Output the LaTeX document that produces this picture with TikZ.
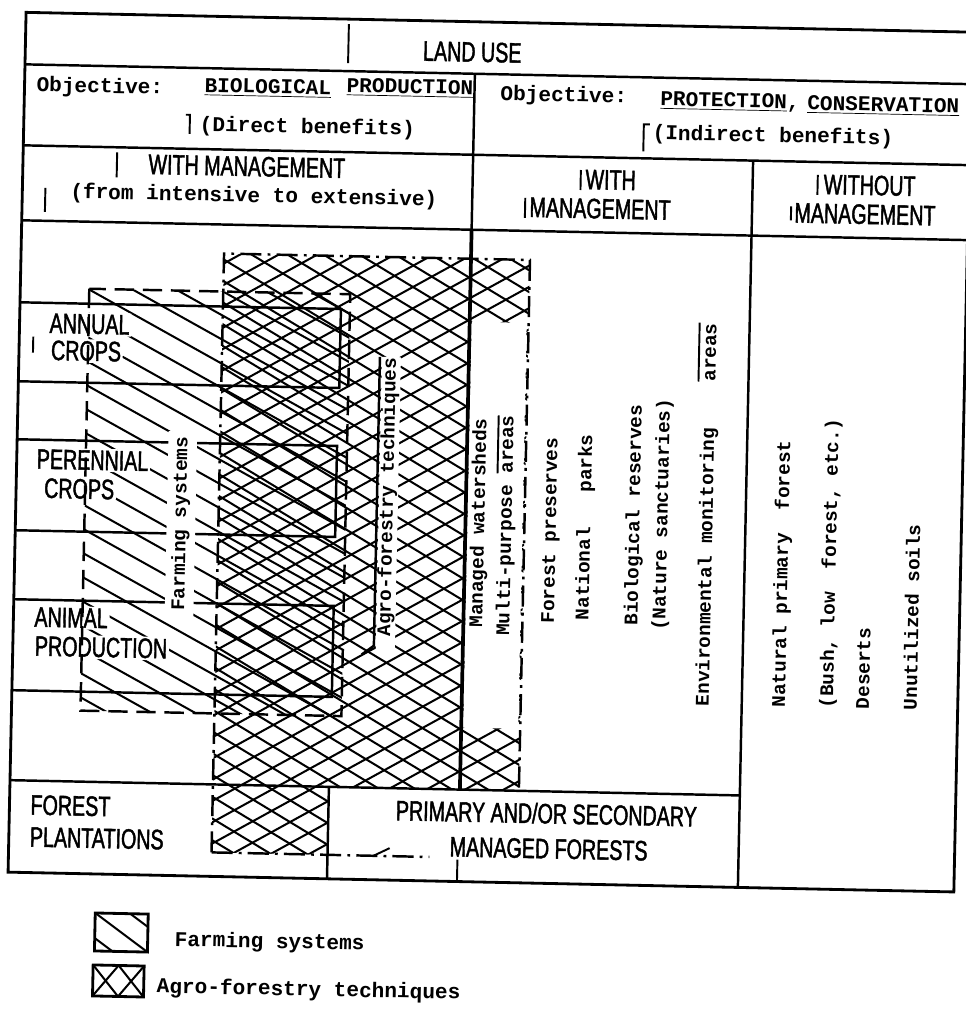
\documentclass[tikz,border=0pt]{standalone}
\usepackage{fontspec}
\setmainfont{Liberation Mono}
\newfontfamily\tw{Liberation Mono}
\newfontfamily\lett{Liberation Sans}[FakeStretch=0.7,FakeBold=1.5]
\begin{document}
\begin{tikzpicture}[x=0.02cm,y=-0.02cm,
  frameline/.style={line width=1.6pt},
  rowline/.style={line width=1.4pt},
  hatchline/.style={line width=1.15pt},
  barline/.style={line width=1.1pt},
  farmdash/.style={line width=1.4pt,dash pattern=on 11pt off 5pt},
  agrodash/.style={line width=1.4pt,dash pattern=on 12pt off 3.5pt on 1.6pt off 3.5pt},
  lettering/.style={font=\lett\fontsize{16}{16}\selectfont,inner sep=1pt},
  typew/.style={font=\tw\bfseries\fontsize{12}{14}\selectfont,inner sep=1pt},
  vtext/.style={font=\tw\bfseries\fontsize{11}{13}\selectfont,rotate=90,inner sep=1pt},
  knock/.style={fill=white}
]
\useasboundingbox (0,0) rectangle (966,1009);
\fill[white] (0,0) rectangle (966,1009);
\begin{scope}[rotate around={-1.2:(483,450)},transform shape]
% ---------- farming systems hatch ----------
\begin{scope}
  \clip (86,297) rectangle (347,719);
  \foreach \k in {0,...,26} \draw[hatchline] (60,{140+\k*24}) -- ++(320,170.2);
\end{scope}
% ---------- agro-forestry cross hatch ----------
\begin{scope}
  \clip (220,259) -- (526,259) -- (526,790) -- (336,790) -- (336,858) -- (220,858) -- cycle;
  \foreach \k in {0,...,40} {
    \draw[hatchline] (200,{60+\k*21.5}) -- ++(340,196.3);
  }
  \foreach \k in {0,...,36} {
    \draw[hatchline] (200,{259+\k*21.5}) -- ++(340,-196.3);
  }
\end{scope}
% ---------- white areas ----------
\fill[white] (469,322) rectangle (524,728);
\fill[white] (380,359) rectangle (399,655);
\draw[rowline] (378,359) -- (378,648) -- (366,657);
% ---------- row boxes ----------
\draw[rowline] (17,312) -- (338,312) -- (338,391) -- (17,391);
\draw[rowline] (17,449) -- (337,449) -- (337,540) -- (17,540);
\draw[rowline] (17,609) -- (337,609) -- (337,700) -- (17,700);
% ---------- table lines ----------
\draw[frameline] (17,22) rectangle (963,882);
\draw[rowline] (17,74) -- (963,74);
\draw[rowline] (17,155) -- (963,155);
\draw[rowline] (17,230) -- (963,230);
\draw[rowline] (467,74) -- (467,230);
\draw[line width=2.1pt] (467,230) -- (467,790);
\draw[rowline] (747,155) -- (747,882);
\draw[rowline] (17,790) -- (747,790);
\draw[rowline] (336,790) -- (336,882);
\draw[barline] (466,860) -- (466,882);
% ---------- small bars ----------
\draw[barline] (340,27) -- (340,66);
\draw[barline] (179,121) -- (183,121) -- (183,140);
\draw[barline] (643,121) -- (637,121) -- (637,148);
\draw[barline] (111,160) -- (111,185);
\draw[barline] (40,197) -- (40,221);
\draw[barline] (575,168) -- (575,188);
\draw[barline] (520,197) -- (520,217);
\draw[barline] (812,168) -- (812,188);
\draw[barline] (786,200) -- (786,214);
\draw[barline] (31,346) -- (31,362);
% ---------- header texts ----------
\node[lettering,anchor=base] (landuse) at (464,62) {LAND USE};
\node[typew,anchor=base west] (objL) at (27,101) {Objective:};
\node[typew,anchor=base west] (bio) at (195,98) {\underline{BIOLOGICAL}};
\node[typew,anchor=base west] (prod) at (337,95) {\underline{PRODUCTION}};
\node[typew,anchor=base west] (objR) at (491,100) {Objective:};
\node[typew,anchor=base west] (prot) at (651,102) {\underline{PROTECTION},};
\node[typew,anchor=base west] (cons) at (798,103) {\underline{CONSERVATION}};
\node[typew,anchor=base west] (direct) at (191,137) {(Direct benefits)};
\node[typew,anchor=base west] (indirect) at (644,136) {(Indirect benefits)};
\node[lettering,anchor=base] (withm) at (241,181) {WITH MANAGEMENT};
\node[typew,anchor=base west] (fromint) at (63,207) {(from intensive to extensive)};
\node[lettering,anchor=base] (withA) at (605,187) {WITH};
\node[lettering,anchor=base] (mgmtA) at (595,216) {MANAGEMENT};
\node[lettering,anchor=base] (withoutB) at (864,187) {WITHOUT};
\node[lettering,anchor=base] (mgmtB) at (860,216) {MANAGEMENT};
% ---------- row labels ----------
\node[lettering,knock,anchor=base west] (annual) at (45,342) {ANNUAL};
\node[lettering,knock,anchor=base west] (crops1) at (47,369) {CROPS};
\node[lettering,knock,anchor=base west] (perennial) at (35,478) {PERENNIAL};
\node[lettering,knock,anchor=base west] (crops2) at (43,507) {CROPS};
\node[lettering,knock,anchor=base west] (animal) at (36,636) {ANIMAL};
\node[lettering,knock,anchor=base west] (production) at (37,665) {PRODUCTION};
\node[lettering,anchor=base west] (forest) at (36,824) {FOREST};
\node[lettering,anchor=base west] (plantations) at (36,856) {PLANTATIONS};
\node[lettering,anchor=base] (primary) at (554,822) {PRIMARY AND/OR SECONDARY};
\node[lettering,anchor=base] (managedf) at (557,857) {MANAGED FORESTS};
% ---------- vertical texts ----------
\node[vtext,knock,inner sep=3pt] (farmlbl) at (182.5,530) {Farming systems};
\node[vtext] (agrolbl) at (389,499) {Agro-forestry techniques};
\node[vtext] (managed) at (481,523) {Managed watersheds};
\node[vtext] (multi) at (508,525) {Multi-purpose areas};
\node[vtext] (forestp) at (553,529) {Forest preserves};
\node[vtext] (natpark) at (587,525) {National~~~parks};
\node[vtext] (bioreserve) at (636,512) {Biological reserves};
\node[vtext] (nature) at (664,511) {(Nature sanctuaries)};
\node[vtext] (envmon) at (709,510) {Environmental monitoring~~~~areas};
\draw[barline] (697,318) -- (697,377);
\draw[barline] (498,415) -- (498,473);
\node[vtext,anchor=west] (natural) at (785,703) {Natural primary~~forest};
\node[vtext,anchor=west] (bush) at (833,703) {(Bush, low~~forest, etc.)};
\node[vtext,anchor=west] (deserts) at (868,703) {Deserts};
\node[vtext,anchor=west] (unutil) at (915,703) {Unutilized soils};
% ---------- boundaries of hatched areas ----------
\draw[farmdash] (86,297) rectangle (347,719);
\draw[agrodash] (220,858) -- (220,259) -- (526,259) -- (526,788);
\draw[agrodash] (220,858) -- (438,858);
\draw[barline] (398,850) -- (382,858);
% ---------- legend ----------
\begin{scope}
  \clip (105,921) rectangle (158,959);
  \foreach \dx in {-35,0,35} \draw[hatchline] ({105+\dx},921) -- ({158+\dx},959);
\end{scope}
\draw[line width=1.6pt] (105,921) rectangle (158,959);
\node[typew,anchor=west] (legfarm) at (183,947) {Farming systems};
\begin{scope}
  \clip (104,973) rectangle (155,1004);
  \draw[hatchline] (104,973) -- (129.5,1004);
  \draw[hatchline] (129.5,973) -- (155,1004);
  \draw[hatchline] (104,1004) -- (129.5,973);
  \draw[hatchline] (129.5,1004) -- (155,973);
\end{scope}
\draw[line width=1.6pt] (104,973) rectangle (155,1004);
\node[typew,anchor=west] (legagro) at (166,994) {Agro-forestry techniques};
\end{scope}
\end{tikzpicture}
\end{document}
